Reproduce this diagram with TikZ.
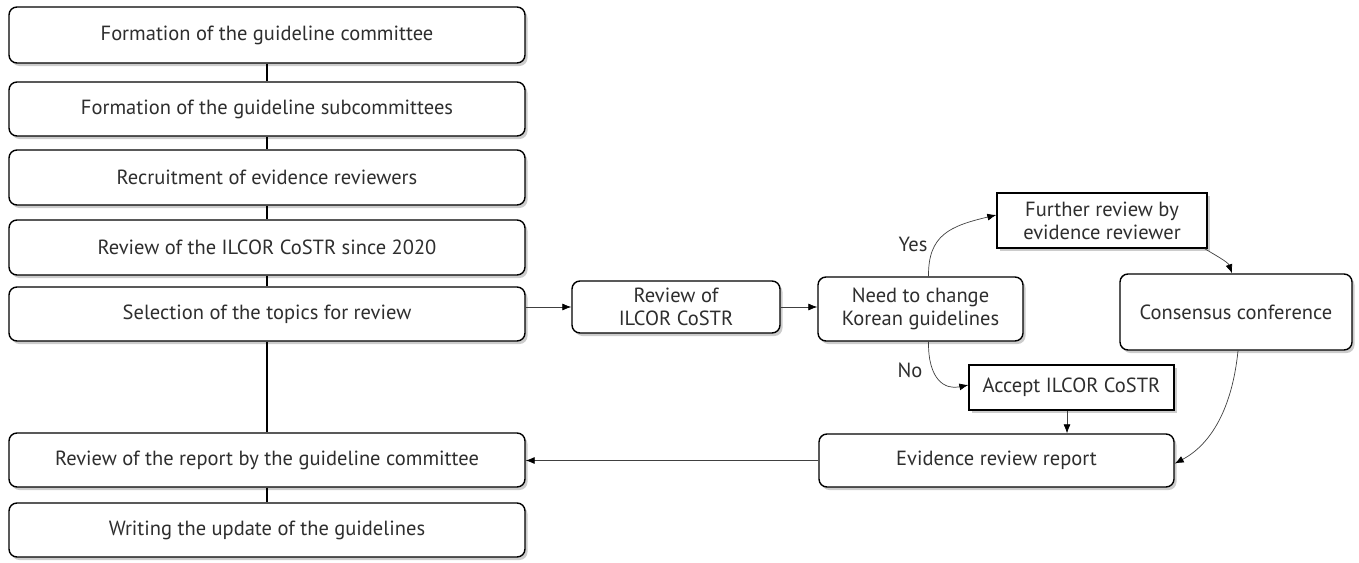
\documentclass[tikz,border=0pt]{standalone}
\usepackage{fontspec}
\setmainfont{PT Sans}
\usetikzlibrary{arrows.meta,shadows}
\begin{document}
\begin{tikzpicture}[x=1pt,y=-1pt,
  box/.style={draw=black,line width=1.4pt,fill=white,inner sep=0pt,align=center,
    font=\fontsize{20.5}{23}\selectfont,text=black!82,
    drop shadow={shadow xshift=2.5pt,shadow yshift=-3pt,fill=black,opacity=0.2}},
  rbox/.style={box,rounded corners=8pt},
  sbox/.style={box},
  vline/.style={line width=1.2pt,black},
  arr/.style={draw=black!75,line width=0.7pt,-{Latex[length=9pt,width=7pt,black]}},
  lbl/.style={font=\fontsize{20.5}{23}\selectfont,text=black!82}]
\useasboundingbox (0,0) rectangle (1359,562);
% left column
\node[rbox,minimum width=516,minimum height=56] (b1) at (267,35) {Formation of the guideline committee};
\node[rbox,minimum width=516,minimum height=54] (b2) at (267,109) {Formation of the guideline subcommittees};
\node[rbox,minimum width=516,minimum height=55] (b3) at (267,177.5) {Recruitment of evidence reviewers};
\node[rbox,minimum width=516,minimum height=55] (b4) at (267,247.5) {Review of the ILCOR CoSTR since 2020};
\node[rbox,minimum width=516,minimum height=54] (b5) at (267,314) {Selection of the topics for review};
\node[rbox,minimum width=516,minimum height=54] (b6) at (267,460) {Review of the report by the guideline committee};
\node[rbox,minimum width=516,minimum height=54] (b7) at (267,530) {Writing the update of the guidelines};
% right part
\node[rbox,minimum width=208,minimum height=52] (rev) at (676,307) {Review of\\ILCOR CoSTR};
\node[rbox,minimum width=205,minimum height=64] (need) at (920.5,309) {Need to change\\Korean guidelines};
\node[sbox,minimum width=210,minimum height=55] (fur) at (1102,220.5) {Further review by\\evidence reviewer};
\node[sbox,minimum width=205,minimum height=45] (acc) at (1071.5,387.5) {Accept ILCOR CoSTR};
\node[rbox,minimum width=232,minimum height=76] (con) at (1236,312) {Consensus conference};
\node[rbox,minimum width=355,minimum height=53] (ev) at (996.5,460.5) {Evidence review report};
% left vertical connectors
\draw[vline] (b1.south) -- (b2.north);
\draw[vline] (b2.south) -- (b3.north);
\draw[vline] (b3.south) -- (b4.north);
\draw[vline] (b4.south) -- (b5.north);
\draw[vline] (b5.south) -- (b6.north);
\draw[vline] (b6.south) -- (b7.north);
% arrows
\draw[arr] (rev.west -| b5.east) -- (rev.west);
\draw[arr] (rev.east) -- (rev.east -| need.west);
\draw[arr] ([xshift=8pt]need.north) .. controls (928,235) and (950,226) .. ([yshift=5.5pt]fur.west);
\draw[arr] ([xshift=8pt]need.south) .. controls (928,380) and (945,390) .. ([yshift=2.5pt]acc.west);
\draw[arr] ([xshift=-3pt]fur.south east) .. controls (1215,255) and (1228,262) .. ([xshift=-4pt]con.north);
\draw[arr] ([xshift=2pt]con.south) .. controls (1232,410) and (1210,445) .. ([yshift=-3pt]ev.east);
\draw[arr] (acc.south -| 1067,0) -- (ev.north -| 1067,0);
\draw[arr] (ev.west) -- (ev.west -| b6.east);
% labels
\node[lbl] (yes) at (913,244) {Yes};
\node[lbl] (no) at (910,370) {No};
\end{tikzpicture}
\end{document}
